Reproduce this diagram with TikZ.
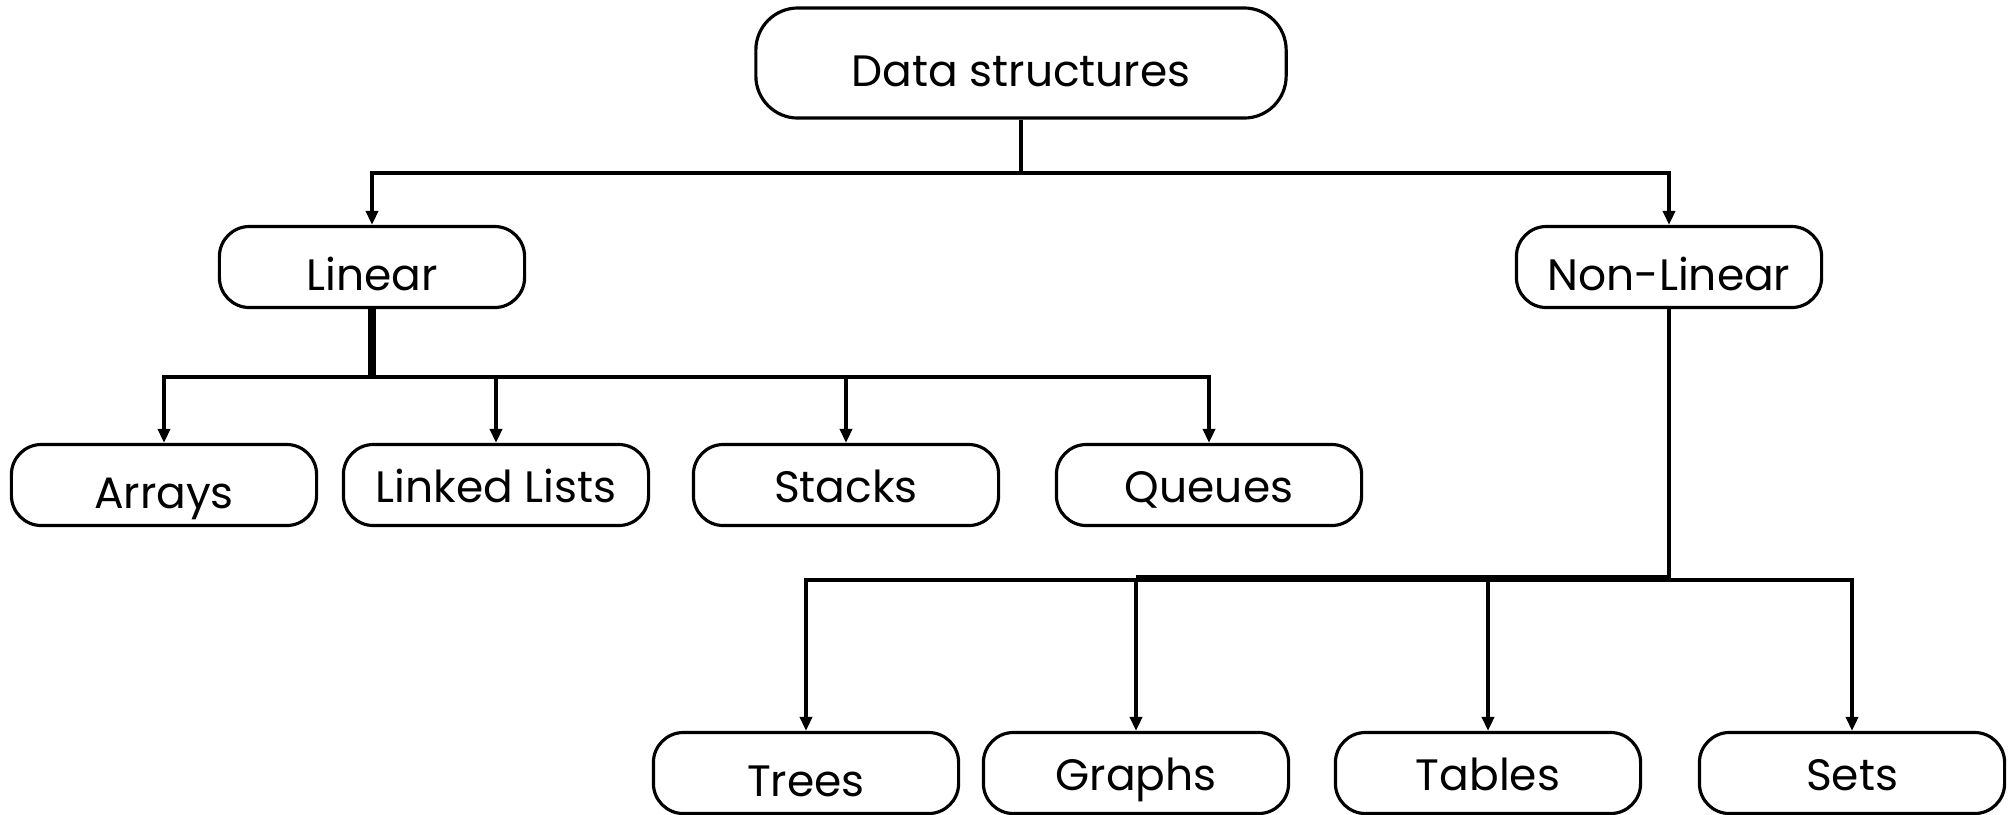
\documentclass[tikz,border=0pt]{standalone}
\usepackage{fontspec}
\setmainfont{Poppins}
\usetikzlibrary{arrows.meta}

\tikzset{
  box/.style={draw, line width=0.9pt, rounded corners=0.3cm,
    minimum width=3.05cm, minimum height=0.81cm, inner sep=0pt,
    font=\fontsize{12.5}{14}\selectfont, text height=13.5pt, text depth=0pt},
  bigbox/.style={box, minimum width=5.3cm, minimum height=1.1cm, rounded corners=0.42cm},
  raised/.style={text height=10pt},
  link/.style={line width=1.1pt, -{Triangle[length=1.4mm,width=1.2mm]}},
}

\begin{document}
\begin{tikzpicture}[x=0.01cm,y=-0.01cm]
        \useasboundingbox (0,0) rectangle (2016,814);
        \node[bigbox] (ds) at (1021,63) {Data structures};
        \node[box] (lin) at (372,267) {Linear};
        \node[box] (nonlin) at (1669,267) {Non-Linear};
        \node[box] (arrays) at (164,485) {Arrays};
        \node[box, raised] (lists) at (496,485) {Linked Lists};
        \node[box, raised] (stacks) at (846,485) {Stacks};
        \node[box, raised] (queues) at (1209,485) {Queues};
        \node[box] (trees) at (806,773) {Trees};
        \node[box, raised] (graphs) at (1136,773) {Graphs};
        \node[box, raised] (tables) at (1488,773) {Tables};
        \node[box, raised] (sets) at (1852,773) {Sets};
        \draw[link] (ds.south) -- ++(0,53) -| (lin.north);
        \draw[link] (ds.south) -- ++(0,53) -| (nonlin.north);
        \draw[line width=2pt] (lin.south) -- ++(0,68);
        \foreach \k in {arrays,lists,stacks,queues}
          \draw[link] (lin.south) -- ++(0,68) -| (\k.north);
        \draw[line width=1.8pt] (graphs.north |- 0,578) -- (nonlin.south |- 0,578);
        \foreach \k in {trees,graphs,tables,sets}
          \draw[link] (nonlin.south) -- ++(0,271) -| (\k.north);
      \end{tikzpicture}
\end{document}
